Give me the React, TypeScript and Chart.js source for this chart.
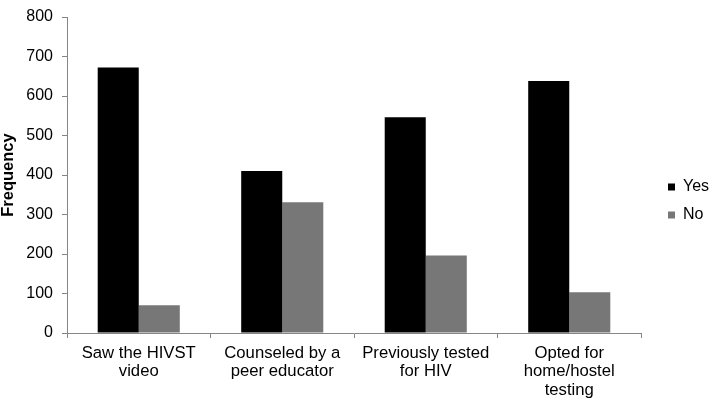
import React, { useEffect, useRef } from "react";
import { Chart, registerables } from "chart.js";

Chart.register(...registerables);

const categories: string[][] = [
  ["Saw the HIVST", "video"],
  ["Counseled by a", "peer educator"],
  ["Previously tested", "for HIV"],
  ["Opted for", "home/hostel", "testing"],
];
const yesValues: number[] = [672, 410, 546, 638];
const noValues: number[] = [70, 331, 196, 103];
const seriesNames: string[] = ["Yes", "No"];
const yTickMin = 0;
const yTickMax = 800;
const yTickStep = 100;

const FONT = "'Liberation Sans', Arial, Helvetica, sans-serif";
const AXIS_COLOR = "#868686";

export default function App() {
  const ref = useRef<HTMLCanvasElement | null>(null);

  useEffect(() => {
    if (!ref.current) return;
    const chart = new Chart(ref.current, {
      type: "bar",
      data: {
        labels: categories,
        datasets: [
          {
            label: seriesNames[0],
            data: yesValues,
            backgroundColor: "#000000",
            borderWidth: 0,
            barPercentage: 1,
            categoryPercentage: 0.572,
          },
          {
            label: seriesNames[1],
            data: noValues,
            backgroundColor: "#777777",
            borderWidth: 0,
            barPercentage: 1,
            categoryPercentage: 0.572,
          },
        ],
      },
      options: {
        responsive: false,
        animation: false,
        layout: { padding: { top: 0, right: 0, bottom: 0, left: 0 } },
        plugins: {
          tooltip: { enabled: false },
          legend: {
            position: "right",
            align: "center",
            maxWidth: 56,
            labels: {
              boxWidth: 7,
              boxHeight: 7,
              padding: 12,
              color: "#000",
              font: { family: FONT, size: 16 },
            },
          },
        },
        scales: {
          x: {
            grid: {
              display: true,
              drawOnChartArea: false,
              drawTicks: true,
              tickLength: 5,
              color: AXIS_COLOR,
              offset: true,
            },
            border: { display: true, color: AXIS_COLOR, width: 1 },
            ticks: {
              color: "#000",
              font: { family: FONT, size: 16.7, lineHeight: 1.1 },
              maxRotation: 0,
              minRotation: 0,
              autoSkip: false,
              padding: 6,
            },
            afterFit: (s: any) => {
              s.height = 69;
            },
          },
          y: {
            min: yTickMin,
            max: yTickMax,
            grid: {
              display: true,
              drawOnChartArea: false,
              drawTicks: true,
              tickLength: 5,
              color: AXIS_COLOR,
            },
            border: { display: true, color: AXIS_COLOR, width: 1 },
            ticks: {
              stepSize: yTickStep,
              color: "#000",
              font: { family: FONT, size: 16, lineHeight: 1 },
              padding: 9,
            },
            title: {
              display: true,
              text: "Frequency",
              color: "#000",
              font: { family: FONT, size: 16.5, weight: "bold", lineHeight: 1 },
              padding: { top: 0, bottom: 0 },
            },
            afterFit: (s: any) => {
              s.width = 67;
            },
          },
          spacer: {
            type: "linear",
            position: "right",
            display: true,
            grid: { display: false },
            border: { display: false },
            ticks: { display: false },
            afterFit: (s: any) => {
              s.width = 15;
            },
          },
        },
      },
    } as any);
    return () => chart.destroy();
  }, []);

  return (
    <div style={{ position: "fixed", left: 0, top: 0, width: 712, height: 402, background: "#fff" }}>
      <canvas ref={ref} width={712} height={402} style={{ display: "block" }} />
    </div>
  );
}
